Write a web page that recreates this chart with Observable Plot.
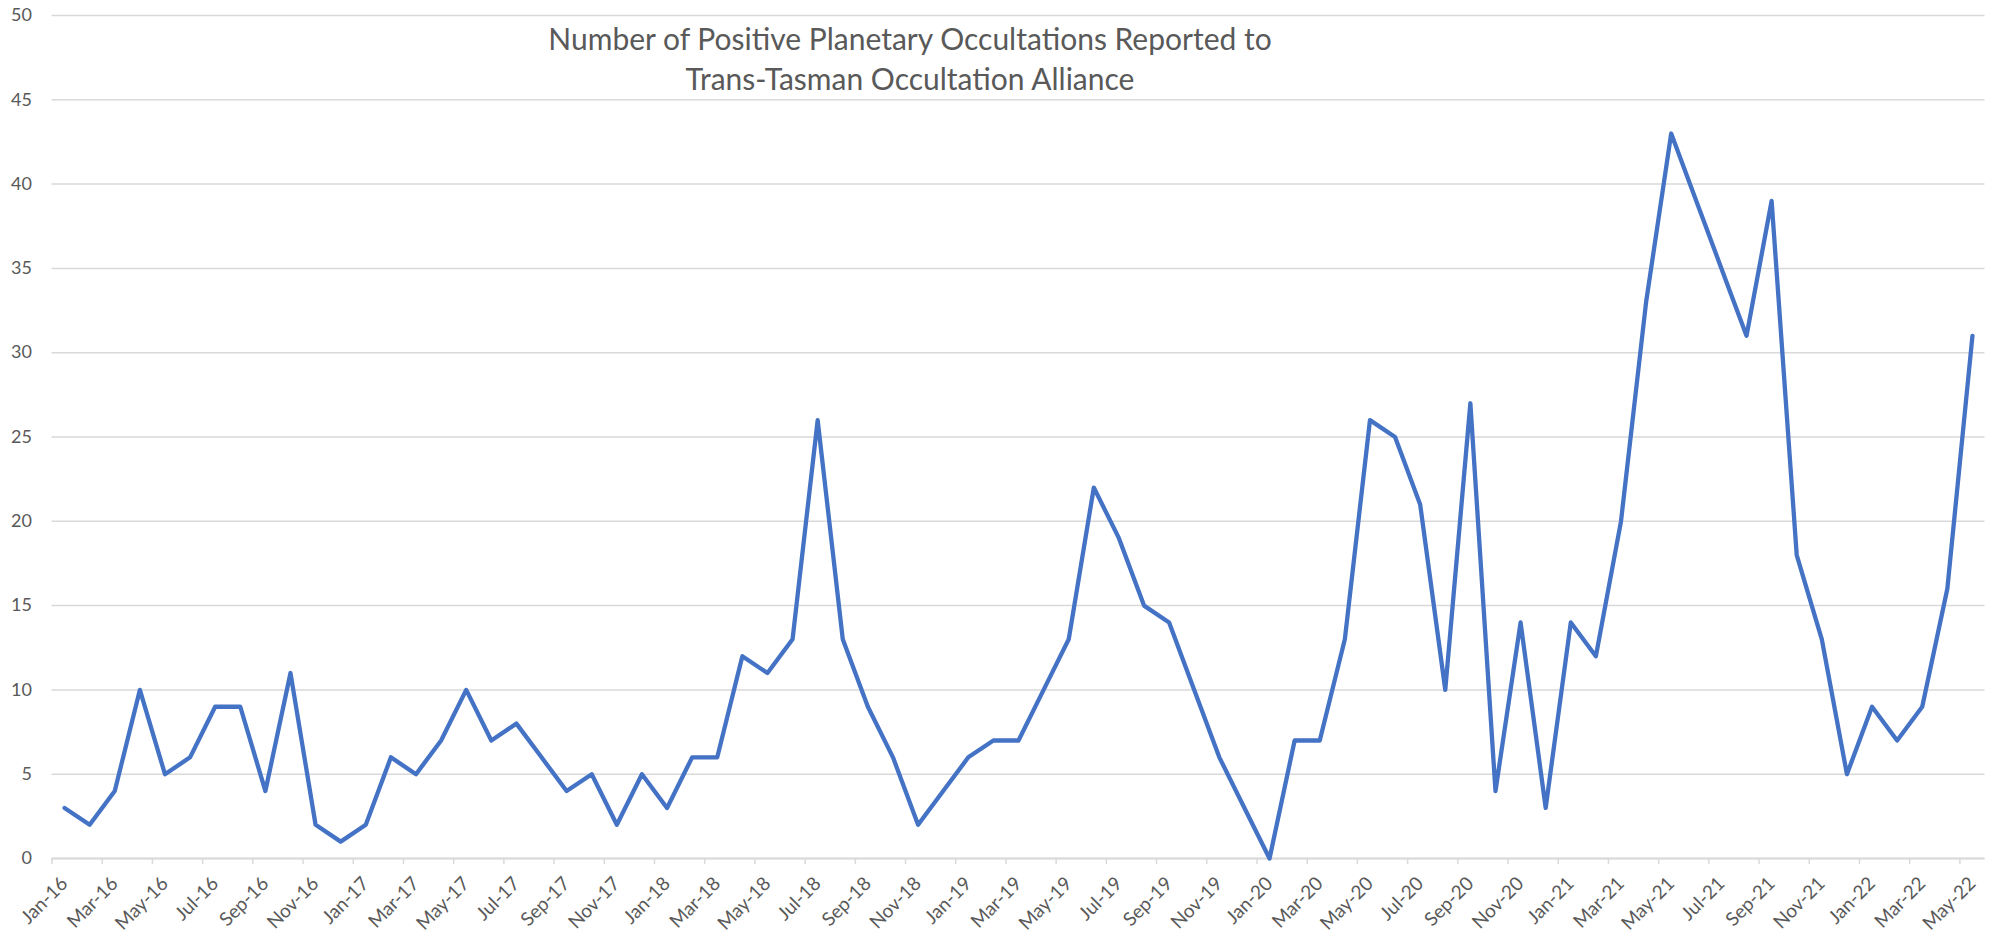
<!DOCTYPE html>
<html><head><meta charset="utf-8">
<script src="https://cdn.jsdelivr.net/npm/d3@7"></script>
<script src="https://cdn.jsdelivr.net/npm/@observablehq/plot@0.6"></script>
<style>
html,body{margin:0;padding:0;background:#fff;}
#wrap{position:relative;width:2004px;height:935px;overflow:hidden;}
#title{position:absolute;left:0;width:1820px;top:18px;text-align:center;font-family:Lato,"Open Sans",sans-serif;font-size:30px;line-height:40px;color:#595959;}
</style></head><body>
<div id="wrap"><div id="chart"></div><div id="title">Number of Positive Planetary Occultations Reported to<br>Trans-Tasman Occultation Alliance</div></div>
<script>
const months = [
 "Jan-16","Feb-16","Mar-16","Apr-16","May-16","Jun-16","Jul-16","Aug-16","Sep-16","Oct-16","Nov-16","Dec-16",
 "Jan-17","Feb-17","Mar-17","Apr-17","May-17","Jun-17","Jul-17","Aug-17","Sep-17","Oct-17","Nov-17","Dec-17",
 "Jan-18","Feb-18","Mar-18","Apr-18","May-18","Jun-18","Jul-18","Aug-18","Sep-18","Oct-18","Nov-18","Dec-18",
 "Jan-19","Feb-19","Mar-19","Apr-19","May-19","Jun-19","Jul-19","Aug-19","Sep-19","Oct-19","Nov-19","Dec-19",
 "Jan-20","Feb-20","Mar-20","Apr-20","May-20","Jun-20","Jul-20","Aug-20","Sep-20","Oct-20","Nov-20","Dec-20",
 "Jan-21","Feb-21","Mar-21","Apr-21","May-21","Jun-21","Jul-21","Aug-21","Sep-21","Oct-21","Nov-21","Dec-21",
 "Jan-22","Feb-22","Mar-22","Apr-22","May-22"
];
const counts = [
 3,2,4,10,5,6,9,9,4,11,2,1,
 2,6,5,7,10,7,8,6,4,5,2,5,
 3,6,6,12,11,13,26,13,9,6,2,4,
 6,7,7,10,13,22,19,15,14,10,6,3,
 0,7,7,13,26,25,21,10,27,4,14,3,
 14,12,20,33,43,39,35,31,39,18,13,5,
 9,7,9,16,31
];
const yTicks = [0,5,10,15,20,25,30,35,40,45,50];

const data = months.map((m, i) => ({i, m, v: counts[i]}));
const labelIdx = months.map((_, i) => i).filter(i => i % 2 === 0);
const boundaries = d3.range(-0.5, months.length - 0.5, 2);

const chart = Plot.plot({
  width: 2004, height: 935,
  marginLeft: 51.5, marginRight: 19.5, marginTop: 15, marginBottom: 77,
  x: {domain: [-0.5, months.length - 0.5]},
  y: {domain: [0, 50]},
  style: {fontFamily: "Lato, 'Open Sans', sans-serif", fontSize: "18px", color: "#595959", background: "white"},
  marks: [
    Plot.gridY(yTicks, {stroke: "#d9d9d9", strokeOpacity: 1, strokeWidth: 1.5}),
    Plot.axisY(yTicks, {tickSize: 0, tickPadding: 20, label: null, fill: "#595959"}),
    Plot.ruleY([0], {stroke: "#d9d9d9", strokeWidth: 1.8}),
    Plot.axisX(boundaries, {tickSize: 6, tickFormat: () => "", stroke: "#d9d9d9", strokeWidth: 1.5, label: null}),
    Plot.axisX(labelIdx, {tickSize: 0, tickPadding: 22, tickRotate: -45, tickFormat: i => months[i], label: null, fill: "#595959", fontSize: 19}),
    Plot.line(data, {x: "i", y: "v", stroke: "#4472C4", strokeWidth: 4.3, strokeLinejoin: "round", strokeLinecap: "round"})
  ]
});
document.getElementById("chart").appendChild(chart);
</script>
</body></html>
